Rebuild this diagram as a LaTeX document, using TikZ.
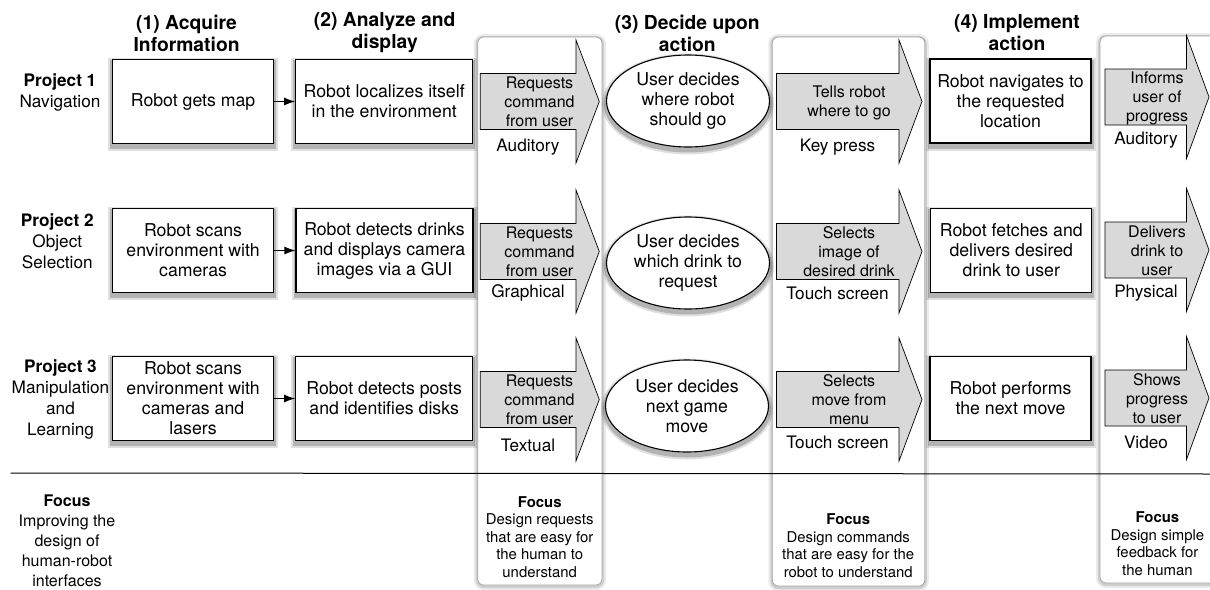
\documentclass[tikz,border=0pt]{standalone}
\usepackage{fontspec}
\setmainfont{TeX Gyre Heros}
\usepackage{tikz}
\usetikzlibrary{arrows.meta}
\usetikzlibrary{shapes.geometric}

\begin{document}
\begin{tikzpicture}
      [x=1pt, y=-1pt,
        every node/.style={align=center, inner sep=0pt},
        txt/.style={font=\fontsize{17.7}{20}\selectfont},
        head/.style={font=\bfseries\fontsize{19.3}{22}\selectfont},
        side/.style={font=\fontsize{17.2}{21}\selectfont},
        note/.style={font=\fontsize{16}{20}\selectfont},
        small/.style={font=\fontsize{16}{19}\selectfont},
        tiny/.style={font=\fontsize{14.9}{17.5}\selectfont},
        shadowed/.style={
            preaction={draw=black, opacity=0.12, line width=9pt, transform canvas={yshift=-3pt}},
            preaction={draw=black, opacity=0.2, line width=5pt, transform canvas={yshift=-3pt}}},
        box/.style={txt, draw, line width=1.1pt, fill=white, minimum height=84, shadowed},
        choice/.style={txt, ellipse, draw, line width=1.1pt, fill=white,
            minimum width=163, minimum height=92, shadowed},
        panel/.style={draw=black!35, fill=white, rounded corners=6pt, line width=0.8pt,
            preaction={draw=black, opacity=0.08, line width=8pt, transform canvas={yshift=-1pt}},
            preaction={draw=black, opacity=0.12, line width=4pt, transform canvas={yshift=-1pt}}},
        barrow/.style={draw, fill=black!15, line width=0.7pt},
        link/.style={-{Latex[length=11pt,width=8pt]}, line width=1.1pt}]
  \useasboundingbox (0,0) rectangle (1210,589);
  \draw[panel] (477.7,37) rectangle (602,585);
  \draw[panel] (772.3,37) rectangle (924.8,586);
  \draw[panel] (1100,36) rectangle (1240,583);
  \draw[line width=1pt] (10.7,473) -- (1210,474);

  \draw[barrow] (480.3,73.5) -- (576,73.5) -- (576,40) -- (599.3,101.5) -- (576,163) -- (576,129.5) -- (480.3,129.5) -- cycle;
  \draw[barrow] (480.3,223.5) -- (576,223.5) -- (576,190) -- (599.3,251.5) -- (576,313) -- (576,279.5) -- (480.3,279.5) -- cycle;
  \draw[barrow] (480.3,371.5) -- (576,371.5) -- (576,338) -- (599.3,399.5) -- (576,461) -- (576,427.5) -- (480.3,427.5) -- cycle;
  \draw[barrow] (776.5,73.5) -- (899,73.5) -- (899,40) -- (922,101.5) -- (899,163) -- (899,129.5) -- (776.5,129.5) -- cycle;
  \draw[barrow] (776.5,223.5) -- (899,223.5) -- (899,190) -- (922,251.5) -- (899,313) -- (899,279.5) -- (776.5,279.5) -- cycle;
  \draw[barrow] (776.5,371.5) -- (899,371.5) -- (899,338) -- (922,399.5) -- (899,461) -- (899,427.5) -- (776.5,427.5) -- cycle;
  \draw[barrow] (1105,69) -- (1186.5,69) -- (1186.5,35.5) -- (1209,97) -- (1186.5,158.5) -- (1186.5,125) -- (1105,125) -- cycle;
  \draw[barrow] (1105,222) -- (1186.5,222) -- (1186.5,188.5) -- (1209,250) -- (1186.5,311.5) -- (1186.5,278) -- (1105,278) -- cycle;
  \draw[barrow] (1105,370) -- (1186.5,370) -- (1186.5,336.5) -- (1209,398) -- (1186.5,459.5) -- (1186.5,426) -- (1105,426) -- cycle;

  \node[head] (h1) at (186.6,33) {(1) Acquire\\Information};
  \node[head] (h2) at (384.7,33) {(2) Analyze and\\display};
  \node[head] (h3) at (687.3,33) {(3) Decide upon\\action};
  \node[head] (h4) at (1017,33) {(4) Implement\\action};

  \node[side] (p1) at (60,92.5) {\textbf{Project 1}\\Navigation};
  \node[side] (p2) at (57.3,241.5) {\textbf{Project 2}\\Object\\Selection};
  \node[side] (p3) at (60.5,399.5) {\textbf{Project 3}\\Manipulation\\and\\Learning};
  \node[note] (focL) at (67,540.5) {\textbf{Focus}\\Improving the\\design of\\human-robot\\interfaces};

  \node[box, minimum width=161] (acq1) at (193.1,101.5) {Robot gets map};
  \node[box, minimum width=177] (ana1) at (384.2,101.5) {Robot localizes itself\\in the environment};
  \node[box, minimum width=161] (acq2) at (193.1,250.5) {Robot scans\\environment with\\cameras};
  \node[box, minimum width=177] (ana2) at (384.5,250.5) {Robot detects drinks\\and displays camera\\images via a GUI};
  \node[box, minimum width=161] (acq3) at (193.1,398.5) {Robot scans\\environment with\\cameras and\\lasers};
  \node[box, minimum width=177] (ana3) at (384.2,398.5) {Robot detects posts\\and identifies disks};
  \draw[link] (acq1) -- (ana1);
  \draw[link] (acq2) -- (ana2);
  \draw[link] (acq3) -- (ana3);

  \node[small] (req1) at (539.5,102) {Requests\\command\\from user};
  \node[side] (mod1) at (528,147) {Auditory};
  \node[small] (req2) at (539.5,252) {Requests\\command\\from user};
  \node[side] (mod2) at (528,293) {Graphical};
  \node[small] (req3) at (539.5,400) {Requests\\command\\from user};
  \node[side] (mod3) at (528,445) {Textual};

  \node[choice] (dec1) at (688,101) {User decides\\where robot\\should go};
  \node[choice] (dec2) at (688,263) {User decides\\which drink to\\request};
  \node[choice] (dec3) at (687,406) {User decides\\next game\\move};

  \node[small] (cmd1) at (849,102.5) {Tells robot\\where to go};
  \node[side] (inp1) at (837.5,147) {Key press};
  \node[small] (cmd2) at (849,252) {Selects\\image of\\desired drink};
  \node[side] (inp2) at (837.5,293) {Touch screen};
  \node[small] (cmd3) at (849,400) {Selects\\move from\\menu};
  \node[side] (inp3) at (837.5,442) {Touch screen};

  \node[box, minimum width=161] (imp1) at (1010.5,101) {Robot navigates to\\the requested\\location};
  \node[box, minimum width=161] (imp2) at (1011.3,250.5) {Robot fetches and\\delivers desired\\drink to user};
  \node[box, minimum width=161] (imp3) at (1010.5,398.5) {Robot performs\\the next move};

  \node[small] (fb1) at (1157,98) {Informs\\user of\\progress};
  \node[side] (out1) at (1146,140) {Auditory};
  \node[small] (fb2) at (1157,250.5) {Delivers\\drink to\\user};
  \node[side] (out2) at (1146,293) {Physical};
  \node[small] (fb3) at (1157,398.7) {Shows\\progress\\to user};
  \node[side] (out3) at (1146,442) {Video};

  \node[tiny] (foc1) at (539.7,537) {\textbf{Focus}\\Design requests\\that are easy for\\the human to\\understand};
  \node[tiny] (foc2) at (848.2,545.5) {\textbf{Focus}\\Design commands\\that are easy for the\\robot to understand};
  \node[tiny] (foc3) at (1157.4,543.5) {\textbf{Focus}\\Design simple\\feedback for\\the human};
 \end{tikzpicture}
\end{document}
